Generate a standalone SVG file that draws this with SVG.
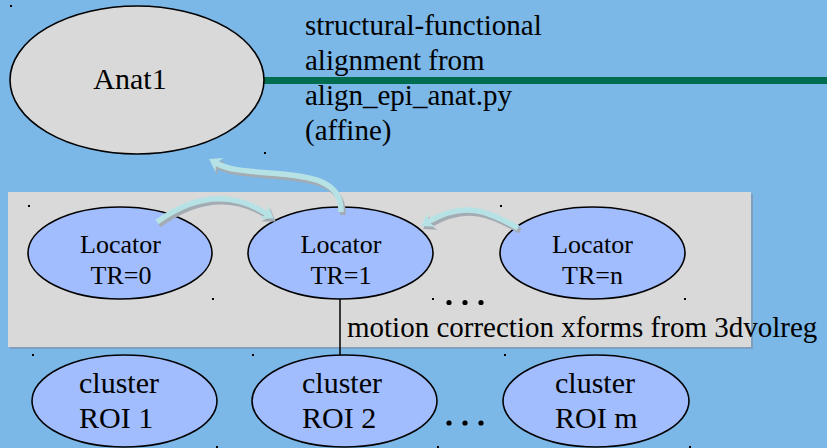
<svg xmlns="http://www.w3.org/2000/svg" width="827" height="448" viewBox="0 0 827 448">
<defs>
<style>
.t{font-family:"Liberation Serif","Times New Roman",serif;fill:#000}
.node{stroke:#000;stroke-width:1.6}
.loc{fill:#a1bdfd}
.arr{fill:none;stroke:#b7e2e5;stroke-width:5.5;stroke-linecap:butt}
.sh{fill:none;stroke:#a3abb3;stroke-width:5.5;stroke-linecap:butt}
.dot{fill:#000}
</style>
<marker id="ah" markerUnits="userSpaceOnUse" markerWidth="16" markerHeight="20" refX="4" refY="0" viewBox="-1 -10 15 20" orient="auto" overflow="visible">
<path d="M12,0 L0,-8 L4,0 L0,8 Z" fill="#b7e2e5"/>
</marker>
<marker id="ahs" markerUnits="userSpaceOnUse" markerWidth="16" markerHeight="20" refX="4" refY="0" viewBox="-1 -10 15 20" orient="auto" overflow="visible">
<path d="M12,0 L0,-8 L4,0 L0,8 Z" fill="#a3abb3"/>
</marker>
</defs>
<rect x="0" y="0" width="827" height="448" fill="#7bb7e7"/>
<g id="panel">
<rect x="10" y="194" width="743" height="155" fill="#7f9fbf"/>
<rect x="8" y="192" width="743" height="155" fill="#d9d9d9"/>
</g>
<g id="specks">
<rect class="dot" x="10" y="5" width="2" height="2"/>
<rect class="dot" x="264" y="152" width="2" height="2"/>
<rect class="dot" x="28" y="205" width="2" height="2"/>
<rect class="dot" x="212" y="298" width="2" height="2"/>
<rect class="dot" x="500" y="205" width="2" height="2"/>
<rect class="dot" x="432" y="298" width="2" height="2"/>
<rect class="dot" x="684" y="298" width="2" height="2"/>
<rect class="dot" x="32" y="354" width="2" height="2"/>
<rect class="dot" x="252" y="354" width="2" height="2"/>
<rect class="dot" x="504" y="354" width="2" height="2"/>
<rect class="dot" x="216" y="446" width="2" height="2"/>
<rect class="dot" x="437" y="446" width="2" height="2"/>
<rect class="dot" x="689" y="446" width="2" height="2"/>
</g>
<g id="connectors">
<line x1="260" y1="80.5" x2="827" y2="80.5" stroke="#006d50" stroke-width="7"/>
<line x1="340" y1="299" x2="340" y2="355" stroke="#000" stroke-width="1.5"/>
</g>
<g id="anat1">
<ellipse class="node" cx="137" cy="80" rx="127" ry="74" fill="#d9d9d9"/>
<text class="t" x="130" y="89" font-size="30" text-anchor="middle">Anat1</text>
</g>
<g id="align-label">
<text class="t" font-size="29" x="305" y="35">structural-functional</text>
<text class="t" font-size="29" x="305" y="70">alignment from</text>
<text class="t" font-size="29" x="305" y="105">align_epi_anat.py</text>
<text class="t" font-size="29" x="305" y="140">(affine)</text>
</g>
<g id="locator0">
<ellipse class="node loc" cx="120" cy="253" rx="92" ry="46"/>
<text class="t" font-size="26" x="120.5" y="253" text-anchor="middle">Locator</text>
<text class="t" font-size="26" x="121" y="284" text-anchor="middle">TR=0</text>
</g>
<g id="locator1">
<ellipse class="node loc" cx="340.5" cy="253" rx="92.5" ry="46"/>
<text class="t" font-size="26" x="341" y="253" text-anchor="middle">Locator</text>
<text class="t" font-size="26" x="341" y="284" text-anchor="middle">TR=1</text>
</g>
<g id="locatorn">
<ellipse class="node loc" cx="592.5" cy="253" rx="92.5" ry="46"/>
<text class="t" font-size="26" x="592.5" y="253" text-anchor="middle">Locator</text>
<text class="t" font-size="26" x="592.5" y="284" text-anchor="middle">TR=n</text>
</g>
<g id="locator-ellipsis">
<circle class="dot" cx="449" cy="302.5" r="2.6"/>
<circle class="dot" cx="465" cy="302.5" r="2.6"/>
<circle class="dot" cx="481" cy="302.5" r="2.6"/>
</g>
<g id="motion-label">
<text class="t" font-size="29" x="347" y="337">motion correction xforms from 3dvolreg</text>
</g>
<g id="roi1">
<ellipse class="node loc" cx="124.5" cy="401" rx="92.5" ry="46"/>
<text class="t" font-size="30" x="79" y="393">cluster</text>
<text class="t" font-size="30" x="79" y="428">ROI 1</text>
</g>
<g id="roi2">
<ellipse class="node loc" cx="344.5" cy="401" rx="92.5" ry="46"/>
<text class="t" font-size="30" x="302" y="393">cluster</text>
<text class="t" font-size="30" x="302" y="428">ROI 2</text>
</g>
<g id="roim">
<ellipse class="node loc" cx="596" cy="401" rx="93" ry="46"/>
<text class="t" font-size="30" x="555" y="393">cluster</text>
<text class="t" font-size="30" x="555" y="428">ROI m</text>
</g>
<g id="roi-ellipsis">
<circle class="dot" cx="449" cy="423" r="2.6"/>
<circle class="dot" cx="465" cy="423" r="2.6"/>
<circle class="dot" cx="481" cy="423" r="2.6"/>
</g>
<g id="flow-arrows">
<g transform="translate(2,3)">
<path class="sh" d="M157,222 Q215,180 267,214" marker-end="url(#ahs)"/>
<path class="sh" d="M518,228 C490,212 465,200 428,222" marker-end="url(#ahs)"/>
<path class="sh" d="M341,212 C342,180 310,176 270,173 C245,171 228,170 216,163" marker-end="url(#ahs)"/>
</g>
<path class="arr" d="M157,222 Q215,180 267,214" marker-end="url(#ah)"/>
<path class="arr" d="M518,228 C490,212 465,200 428,222" marker-end="url(#ah)"/>
<path class="arr" d="M341,212 C342,180 310,176 270,173 C245,171 228,170 216,163" marker-end="url(#ah)"/>
</g>
</svg>
